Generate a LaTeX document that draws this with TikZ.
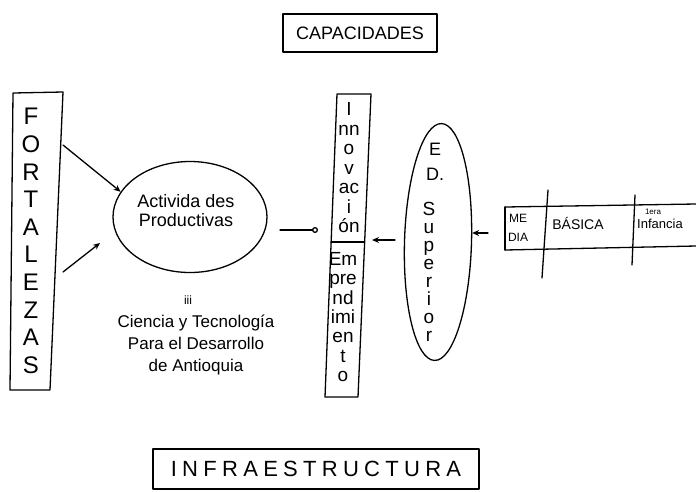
\documentclass[tikz,border=0pt]{standalone}
\usepackage{fontspec}
\setmainfont{Liberation Sans}
\usetikzlibrary{shapes.geometric,arrows.meta}
\begin{document}
\begin{tikzpicture}[x=1pt,y=-1pt,
  ink/.style={line width=1.3pt, line join=round, line cap=round},
  arr/.style={ink,-{Stealth[length=7pt,width=6pt]}},
  circarr/.style={ink,-{Circle[open,length=6pt,line width=1.3pt]}},
  col/.style={align=center, inner sep=0pt},
  lbl/.style={inner sep=0pt, align=center},
  titlebox/.style={ink, draw, inner sep=0pt}]
\useasboundingbox (0,0) rectangle (696,491);

% titles
\node[titlebox, minimum width=154pt, minimum height=38pt, font=\fontsize{18}{20}\selectfont] (cap) at (360,33) {CAPACIDADES};
\node[titlebox, minimum width=326pt, minimum height=40pt, font=\fontsize{22}{24}\selectfont\addfontfeature{LetterSpace=24}] (infra) at (316,469) {INFRAESTRUCTURA};

% FORTALEZAS column
\draw[ink] (13,93) -- (63,92) -- (50,390) -- (10,390) -- cycle;
\node[col, font=\fontsize{24}{27.6}\selectfont] (fort) at (31,241) {F\\O\\R\\T\\A\\L\\E\\Z\\A\\S};
\coordinate (f1) at (63,145);
\coordinate (f2) at (63,272);
\coordinate (a2) at (100,243);

% Actividades ellipse
\node[ellipse, ink, draw, inner sep=0pt, minimum width=154pt, minimum height=111pt] (act) at (190,217) {};
\node[lbl, font=\fontsize{18}{19}\selectfont] (acttxt) at (186,211) {Activida des\\Productivas};
\draw[arr] (f1) -- (act.160);
\draw[arr] (f2) -- (a2);

% caption
\node[lbl, font=\fontsize{12}{14}\selectfont] (iii) at (188,300) {iii};
\node[lbl, font=\fontsize{17}{22}\selectfont] (cyt) at (196,345) {Ciencia y Tecnología\\Para el Desarrollo\\de Antioquia};

% Innovacion / Emprendimiento column
\draw[ink] (337,94) -- (371,94) -- (358,397) -- (325,397) -- cycle;
\draw[ink] (331,242) -- (364,242);
\node[col, font=\fontsize{19}{19.5}\selectfont] (inn) at (349,168) {I\\nn\\o\\v\\ac\\i\\ón};
\node[col, font=\fontsize{19}{19.3}\selectfont] (emp) at (343,317) {Em\\pre\\nd\\imi\\en\\t\\o};
\coordinate (c1) at (280,230);
\coordinate (c2) at (318,230);
\draw[circarr] (c1) -- (c2);

% Ed. Superior ellipse
\node[ellipse, ink, draw, inner sep=0pt, minimum width=67pt, minimum height=237pt, rotate=-1.7] (sup) at (438,242) {};
\node[col, font=\fontsize{18}{25}\selectfont] (ed) at (435,162) {E\\D.};
\node[col, font=\fontsize{19}{18.1}\selectfont] (suptxt) at (429,272) {S\\u\\p\\e\\r\\i\\o\\r};
\coordinate (s1) at (395,240);
\coordinate (s2) at (372,240);
\draw[arr] (s1) -- (s2);

% table of levels
\draw[ink] (505,207) -- (696,204);
\draw[ink] (505,250) -- (696,246);
\draw[ink] (505,207) -- (505,250);
\draw[ink] (548,190) -- (542,278);
\draw[ink] (635,195) -- (632,265);
\node[lbl, font=\fontsize{12}{19}\selectfont] (media) at (518,228) {ME\\DIA};
\node[lbl, font=\fontsize{14}{16}\selectfont] (basica) at (578,223) {BÁSICA};
\node[lbl, font=\fontsize{8}{9}\selectfont] (prim) at (653,212) {1era};
\node[lbl, font=\fontsize{13}{15}\selectfont, anchor=west] (inf) at (637,224) {Infancia};
\coordinate (t1) at (488,233);
\draw[arr] (t1) -- (sup.east |- t1);
\end{tikzpicture}
\end{document}
